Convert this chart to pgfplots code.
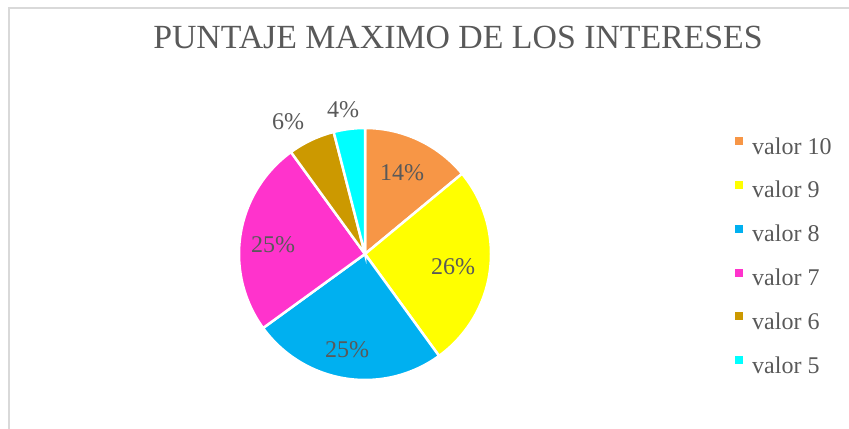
\documentclass[border=0pt]{standalone}
\usepackage{pgfplots}
\pgfplotsset{compat=1.18}
\usepackage{fontspec}
\setmainfont{Liberation Serif}

\definecolor{txt}{HTML}{595959}
\definecolor{frame}{HTML}{D9D9D9}
\definecolor{cA}{HTML}{F79646}
\definecolor{cB}{HTML}{FFFF00}
\definecolor{cC}{HTML}{00B0F0}
\definecolor{cD}{HTML}{FF33CC}
\definecolor{cE}{HTML}{CC9900}
\definecolor{cF}{HTML}{00FFFF}

% shares in percent
\def\pA{14}\def\pB{26}\def\pC{25}\def\pD{25}\def\pE{6}\def\pF{4}
\pgfmathsetmacro\aA{90}
\pgfmathsetmacro\aB{\aA-3.6*\pA}
\pgfmathsetmacro\aC{\aB-3.6*\pB}
\pgfmathsetmacro\aD{\aC-3.6*\pC}
\pgfmathsetmacro\aE{\aD-3.6*\pD}
\pgfmathsetmacro\aF{\aE-3.6*\pE}
\pgfmathsetmacro\aG{\aF-3.6*\pF}

\def\cx{365}\def\cy{175}\def\R{126}

\begin{document}
\begin{tikzpicture}
\begin{axis}[
    width=849bp, height=429bp, scale only axis,
    xmin=0, xmax=849, ymin=0, ymax=429,
    hide axis, clip=false,
    legend cell align=left,
    legend style={draw=none, fill=none, at={(axis cs:735,292)}, anchor=north west,
        font=\fontsize{24bp}{28bp}\selectfont, text=txt, row sep=21.8bp,
        inner sep=0pt, nodes={inner sep=0pt, text height=17bp, text depth=5bp}},
    legend image code/.code={\fill[#1,draw=none] (0bp,3bp) rectangle (8bp,11bp);},
    every axis plot/.append style={draw=white, line width=2.5bp},
]
\addplot[fill=cA, domain=\aA:\aB, samples=40, variable=\t] ({\cx+\R*cos(\t)},{\cy+\R*sin(\t)}) -- (axis cs:\cx,\cy) -- cycle;
\addlegendentry{\hspace{9bp}valor 10}
\addplot[fill=cB, domain=\aB:\aC, samples=60, variable=\t] ({\cx+\R*cos(\t)},{\cy+\R*sin(\t)}) -- (axis cs:\cx,\cy) -- cycle;
\addlegendentry{\hspace{9bp}valor 9}
\addplot[fill=cC, domain=\aC:\aD, samples=60, variable=\t] ({\cx+\R*cos(\t)},{\cy+\R*sin(\t)}) -- (axis cs:\cx,\cy) -- cycle;
\addlegendentry{\hspace{9bp}valor 8}
\addplot[fill=cD, domain=\aD:\aE, samples=60, variable=\t] ({\cx+\R*cos(\t)},{\cy+\R*sin(\t)}) -- (axis cs:\cx,\cy) -- cycle;
\addlegendentry{\hspace{9bp}valor 7}
\addplot[fill=cE, domain=\aE:\aF, samples=20, variable=\t] ({\cx+\R*cos(\t)},{\cy+\R*sin(\t)}) -- (axis cs:\cx,\cy) -- cycle;
\addlegendentry{\hspace{9bp}valor 6}
\addplot[fill=cF, domain=\aF:\aG, samples=20, variable=\t] ({\cx+\R*cos(\t)},{\cy+\R*sin(\t)}) -- (axis cs:\cx,\cy) -- cycle;
\addlegendentry{\hspace{9bp}valor 5}

% percentage labels
\addplot[forget plot, draw=none, mark=none, point meta=explicit symbolic,
    nodes near coords, nodes near coords align=center,
    every node near coord/.append style={text=txt, font=\fontsize{24bp}{28bp}\selectfont, anchor=center}]
    coordinates {(402,256)[14\%] (453,162)[26\%] (347,79)[25\%] (273,184)[25\%] (288,307)[6\%] (343,319)[4\%]};

% frame and title
\draw[frame, line width=1.5bp] (axis cs:9,0) -- (axis cs:9,421) -- (axis cs:849,421);
\node[text=txt, font=\fontsize{33.8bp}{40bp}\selectfont] at (axis cs:458,392) {PUNTAJE MAXIMO DE LOS INTERESES};
\end{axis}
\pgfresetboundingbox
\useasboundingbox (current axis.south west) rectangle (current axis.north east);
\end{tikzpicture}
\end{document}
